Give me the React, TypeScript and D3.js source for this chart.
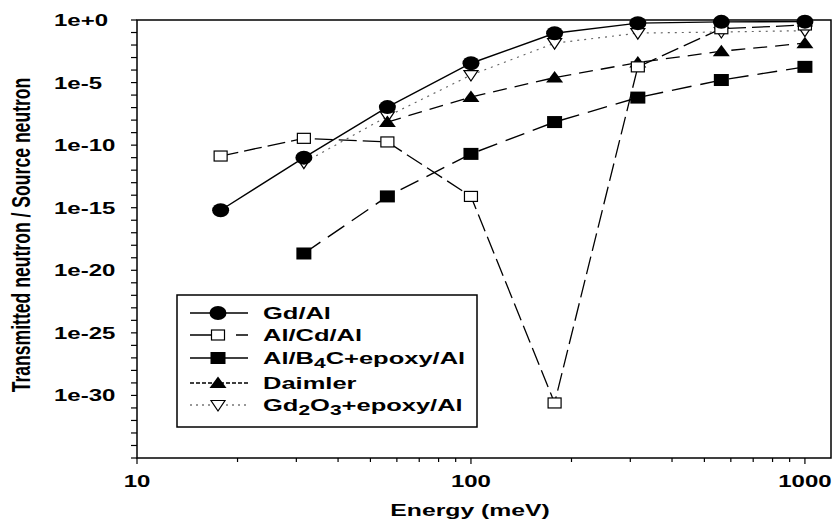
import React from "react";
import * as d3 from "d3";

const energy = [17.8, 31.6, 56.2, 100, 178, 316, 562, 1000];
const gdAl = [6.3e-16, 1.0e-11, 1.1e-7, 3.5e-4, 8.7e-2, 0.56, 0.71, 0.74];
const alCdAl = [1.35e-11, 3.5e-10, 1.8e-10, 8e-15, 2.5e-31, 1.8e-4, 0.2, 0.4];
const energyB4C = [31.6, 56.2, 100, 178, 316, 562, 1000];
const alB4C = [2.2e-19, 8e-15, 2e-11, 7e-9, 6.3e-7, 1.6e-5, 1.8e-4];
const energyDaimler = [56.2, 100, 178, 316, 562, 1000];
const daimler = [7e-9, 7e-7, 2.5e-5, 4e-4, 3.2e-3, 1.4e-2];
const energyGd2O3 = [31.6, 56.2, 100, 178, 316, 562, 1000];
const gd2o3 = [4e-12, 2e-8, 4e-5, 1.4e-2, 0.09, 0.11, 0.14];

const yTickExps = [0, -5, -10, -15, -20, -25, -30];
const yTickLabels = ["1e+0", "1e-5", "1e-10", "1e-15", "1e-20", "1e-25", "1e-30"];
const xTickValues = [10, 100, 1000];
const xTickLabels = ["10", "100", "1000"];

const FONT = "'Liberation Sans', Arial, Helvetica, sans-serif";
const SX = 1.5;

const left = 137, right = 831, top = 20, bottom = 458;

export default function App() {
  const x = d3.scaleLog().domain([10, 1197]).range([left, right]);
  const y = d3.scaleLog().domain([1e-35, 1]).range([bottom, top]);

  const line = d3
    .line<[number, number]>()
    .x((d) => x(d[0]))
    .y((d) => y(d[1]));

  const pairs = (xs: number[], ys: number[]) => xs.map((v, i) => [v, ys[i]] as [number, number]);

  const circle = (cx: number, cy: number, k: string) => (
    <ellipse key={k} cx={cx} cy={cy} rx={8.5} ry={7} fill="#000" />
  );
  const fsq = (cx: number, cy: number, k: string) => (
    <rect key={k} x={cx - 7.5} y={cy - 6} width={15} height={12} fill="#000" />
  );
  const osq = (cx: number, cy: number, k: string) => (
    <rect key={k} x={cx - 6.5} y={cy - 5} width={13} height={10} fill="#fff" stroke="#000" strokeWidth={1.2} />
  );
  const tri = (cx: number, cy: number, k: string) => (
    <path key={k} d={`M${cx - 8.5},${cy + 5}L${cx + 8.5},${cy + 5}L${cx},${cy - 6.5}Z`} fill="#000" />
  );
  const itri = (cx: number, cy: number, k: string) => (
    <path key={k} d={`M${cx - 7},${cy - 4.5}L${cx + 7},${cy - 4.5}L${cx},${cy + 6}Z`} fill="#fff" stroke="#000" strokeWidth={1.2} />
  );

  const series = [
    { name: "Gd/Al", xs: energy, ys: gdAl, dash: "", color: "#000", w: 1.4, marker: circle },
    { name: "Al/Cd/Al", xs: energy, ys: alCdAl, dash: "18,6", color: "#000", w: 1.3, marker: osq },
    { name: "B4C", xs: energyB4C, ys: alB4C, dash: "20,9", color: "#000", w: 1.4, marker: fsq },
    { name: "Daimler", xs: energyDaimler, ys: daimler, dash: "14,8", color: "#000", w: 1.3, marker: tri },
    { name: "Gd2O3", xs: energyGd2O3, ys: gd2o3, dash: "2,5", color: "#666", w: 1.2, marker: itri },
  ];

  const yMinor = d3.range(-35, 1).map((e) => Math.pow(10, e));
  const xMinor: number[] = [];
  [10, 100, 1000].forEach((b) => {
    for (let m = 1; m <= 9; m++) {
      const v = b * m;
      if (v <= 1197) xMinor.push(v);
    }
  });

  const legendRows = [
    { yy: 313, marker: circle, dash: "", color: "#000" },
    { yy: 335, marker: osq, dash: "30,16", color: "#000" },
    { yy: 358, marker: fsq, dash: "", color: "#000" },
    { yy: 383, marker: tri, dash: "4,2", color: "#000" },
    { yy: 405, marker: itri, dash: "2,4", color: "#777" },
  ];

  const textStyle = { fontFamily: FONT, fontWeight: 700 as const };

  return (
    <div style={{ position: "absolute", left: 0, top: 0 }}>
      <svg width={836} height={522} style={{ display: "block", background: "#fff" }}>
        <rect x={left} y={top} width={right - left} height={bottom - top} fill="none" stroke="#000" strokeWidth={1.5} />

        {yMinor.map((v, i) => (
          <line key={"yt" + i} x1={left - 6} x2={left} y1={y(v)} y2={y(v)} stroke="#000" strokeWidth={1.2} />
        ))}
        {yTickExps.map((e, i) => (
          <text
            key={"yl" + i}
            transform={`translate(54,${y(Math.pow(10, e)) + 6}) scale(${SX},1)`}
            fontSize={16}
            {...textStyle}
          >
            {yTickLabels[i]}
          </text>
        ))}

        {xMinor.map((v, i) => (
          <line
            key={"xt" + i}
            x1={x(v)}
            x2={x(v)}
            y1={bottom}
            y2={bottom + (xTickValues.includes(v) ? 6 : 4)}
            stroke="#000"
            strokeWidth={1.2}
          />
        ))}
        {xTickValues.map((v, i) => (
          <text
            key={"xl" + i}
            transform={`translate(${x(v)},487) scale(${SX},1)`}
            textAnchor="middle"
            fontSize={16}
            {...textStyle}
          >
            {xTickLabels[i]}
          </text>
        ))}

        <text
          transform={`translate(470,516) scale(${SX},1)`}
          textAnchor="middle"
          fontSize={16.5}
          {...textStyle}
        >
          Energy (meV)
        </text>
        <text
          transform={`translate(30,235) rotate(-90) scale(1,1.45)`}
          textAnchor="middle"
          fontSize={17.6}
          {...textStyle}
        >
          Transmitted neutron / Source neutron
        </text>

        {series.map((s) => (
          <path
            key={"l" + s.name}
            d={line(pairs(s.xs, s.ys)) || ""}
            fill="none"
            stroke={s.color}
            strokeWidth={s.w}
            strokeDasharray={s.dash}
          />
        ))}
        {[...series].reverse().map((s) =>
          s.xs.map((v, i) => s.marker(x(v), y(s.ys[i]), s.name + i))
        )}

        <rect x={177} y={295} width={300} height={132} fill="#fff" stroke="#000" strokeWidth={1.5} />
        {legendRows.map((r, i) => (
          <g key={"lg" + i}>
            <line x1={190} x2={248} y1={r.yy} y2={r.yy} stroke={r.color} strokeWidth={1.3} strokeDasharray={r.dash} />
            {r.marker(218, r.yy, "lm" + i)}
          </g>
        ))}
        <g fontSize={17} {...textStyle}>
          <text transform={`translate(263,319) scale(${SX},1)`}>Gd/Al</text>
          <text transform={`translate(263,341) scale(${SX},1)`}>Al/Cd/Al</text>
          <text transform={`translate(263,364) scale(${SX},1)`}>
            Al/B<tspan dy={4} fontSize={14}>4</tspan>
            <tspan dy={-4}>C+epoxy/Al</tspan>
          </text>
          <text transform={`translate(263,389) scale(${SX},1)`}>Daimler</text>
          <text transform={`translate(263,411) scale(${SX},1)`}>
            Gd<tspan dy={4} fontSize={14}>2</tspan>
            <tspan dy={-4}>O</tspan>
            <tspan dy={4} fontSize={14}>3</tspan>
            <tspan dy={-4}>+epoxy/Al</tspan>
          </text>
        </g>
      </svg>
    </div>
  );
}
